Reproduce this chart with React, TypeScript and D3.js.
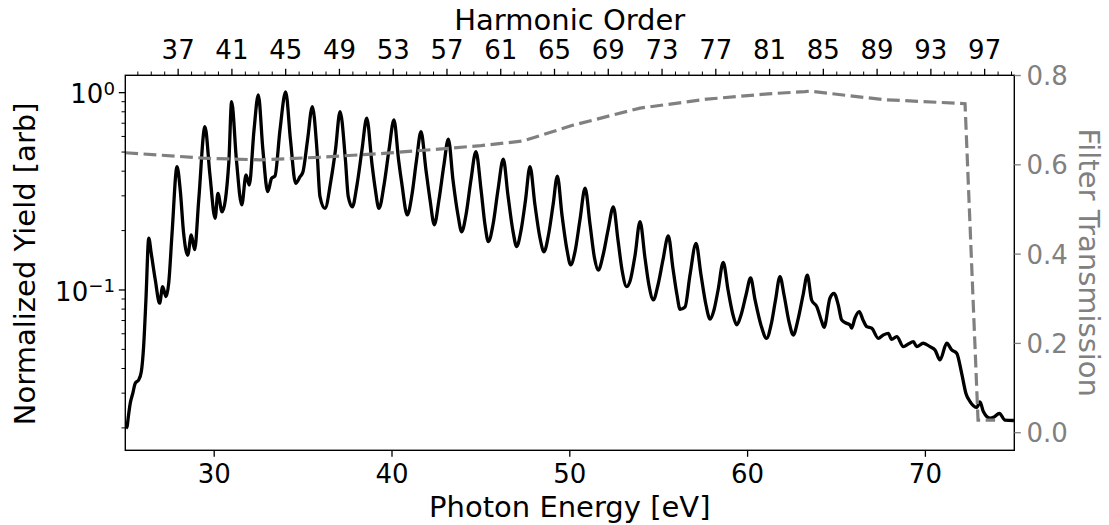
import React from "react";
import * as d3 from "d3";

// Photon energy (eV) of the measured spectrum points
const photonEnergy = [
  25.04, 25.10, 25.17, 25.28, 25.42, 25.56, 25.75, 25.90, 26.03, 26.16,
  26.32, 26.46, 26.69, 26.93, 27.10, 27.29, 27.44, 27.63, 27.91, 28.09,
  28.28, 28.51, 28.71, 28.90, 29.13, 29.48, 29.76, 30.05, 30.21, 30.44,
  30.82, 30.98, 31.25, 31.55, 31.79, 31.97, 32.24, 32.48, 32.74, 33.01,
  33.23, 33.42, 33.70, 34.02, 34.29, 34.58, 34.83, 34.99, 35.25, 35.52,
  35.78, 35.95, 36.23, 36.57, 36.82, 37.08, 37.38, 37.54, 37.77, 38.03,
  38.31, 38.58, 38.88, 39.04, 39.27, 39.55, 39.83, 40.11, 40.37, 40.55,
  40.86, 41.12, 41.38, 41.63, 41.91, 42.14, 42.38, 42.64, 42.92, 43.17,
  43.43, 43.71, 43.92, 44.16, 44.44, 44.72, 45.01, 45.23, 45.42, 45.68,
  45.96, 46.26, 46.52, 46.81, 47.01, 47.26, 47.51, 47.76, 48.04, 48.32,
  48.55, 48.80, 49.06, 49.30, 49.56, 49.84, 50.05, 50.29, 50.57, 50.86,
  51.14, 51.39, 51.60, 51.87, 52.15, 52.45, 52.71, 52.94, 53.20, 53.39,
  53.67, 53.95, 54.23, 54.45, 54.70, 54.96, 55.24, 55.54, 55.80, 56.03,
  56.20, 56.48, 56.76, 57.10, 57.38, 57.66, 57.89, 58.11, 58.34, 58.63,
  58.90, 59.18, 59.39, 59.63, 59.91, 60.17, 60.42, 60.75, 61.07, 61.32,
  61.57, 61.82, 62.05, 62.33, 62.57, 62.83, 63.12, 63.36, 63.60, 63.89,
  64.17, 64.30, 64.63, 64.86, 65.10, 65.29, 65.53, 65.76, 65.85, 66.04,
  66.28, 66.49, 66.70, 66.98, 67.35, 67.63, 67.91, 68.10, 68.39, 68.76,
  69.04, 69.32, 69.51, 69.88, 70.26, 70.54, 70.82, 71.20, 71.48, 71.76,
  72.04, 72.28, 72.51, 72.89, 73.07, 73.26, 73.63, 73.86, 74.16, 74.48,
  74.98,
];

// Normalized harmonic yield (arb.)
const normalizedYield = [
  0.0199, 0.0203, 0.0228, 0.0267, 0.0299, 0.0337, 0.0350, 0.0385, 0.0516, 0.0890,
  0.183, 0.153, 0.112, 0.0857, 0.104, 0.0925, 0.108, 0.194, 0.422, 0.321,
  0.194, 0.150, 0.190, 0.160, 0.286, 0.672, 0.383, 0.231, 0.309, 0.249,
  0.439, 0.900, 0.456, 0.270, 0.383, 0.340, 0.647, 0.973, 0.512, 0.315,
  0.368, 0.378, 0.647, 1.01, 0.576, 0.347, 0.375, 0.396, 0.576, 0.849,
  0.512, 0.297, 0.259, 0.361, 0.512, 0.801, 0.456, 0.297, 0.264, 0.340,
  0.512, 0.742, 0.430, 0.334, 0.259, 0.340, 0.512, 0.727, 0.456, 0.347,
  0.240, 0.303, 0.456, 0.634, 0.406, 0.286, 0.214, 0.286, 0.430, 0.582,
  0.361, 0.240, 0.197, 0.240, 0.361, 0.502, 0.321, 0.214, 0.176, 0.214,
  0.321, 0.460, 0.303, 0.197, 0.166, 0.201, 0.286, 0.422, 0.270, 0.184,
  0.156, 0.190, 0.270, 0.378, 0.240, 0.160, 0.134, 0.156, 0.226, 0.328,
  0.214, 0.145, 0.126, 0.150, 0.201, 0.264, 0.179, 0.126, 0.104, 0.111,
  0.150, 0.222, 0.145, 0.106, 0.0890, 0.106, 0.142, 0.188, 0.129, 0.0943,
  0.0798, 0.0820, 0.119, 0.172, 0.119, 0.0839, 0.0711, 0.0792, 0.100, 0.138,
  0.100, 0.0747, 0.0665, 0.0747, 0.0943, 0.115, 0.0890, 0.0665, 0.0569, 0.0665,
  0.0890, 0.117, 0.0943, 0.0689, 0.0591, 0.0705, 0.0943, 0.119, 0.0890, 0.0823,
  0.0691, 0.0647, 0.0908, 0.0962, 0.0839, 0.0705, 0.0680, 0.0665, 0.0640, 0.0721,
  0.0776, 0.0705, 0.0652, 0.0640, 0.0569, 0.0591, 0.0603, 0.0562, 0.0580, 0.0516,
  0.0532, 0.0547, 0.0516, 0.0537, 0.0516, 0.0497, 0.0442, 0.0537, 0.0497, 0.0478,
  0.0378, 0.0299, 0.0272, 0.0254, 0.0271, 0.0242, 0.0224, 0.0227, 0.0237, 0.0219,
  0.0218,
];

// Filter transmission curve
const filterEnergy = [
  25.0, 29.39, 32.57, 35.95, 39.70, 43.17, 45.0, 47.29, 47.57, 50.20,
  53.95, 57.70, 61.16, 63.23, 63.51, 67.63, 72.23, 72.96, 73.92,
];
const filterTransmission = [
  0.627, 0.615, 0.611, 0.617, 0.626, 0.637, 0.643, 0.653, 0.656, 0.689,
  0.727, 0.747, 0.759, 0.764, 0.765, 0.746, 0.737, 0.028, 0.028,
];

const bottomTicks = [30, 40, 50, 60, 70];
const rightTicks = [0.0, 0.2, 0.4, 0.6, 0.8];
const harmonicLabels = [37, 41, 45, 49, 53, 57, 61, 65, 69, 73, 77, 81, 85, 89, 93, 97];
const photonPerOrder = 0.756; // eV per harmonic order

const FONT = "'DejaVu Sans', sans-serif";
const GRAY = "#808080";
const TICK_FS = 26;
const LABEL_FS = 29;

export default function App() {
  const W = 1109;
  const H = 525;
  const L = 125.3, R = 1014.3, T = 75.3, B = 450.3;
  const majorLen = 6.5, minorLen = 3.8;

  const x = d3.scaleLinear().domain([25, 75]).range([L, R]);
  const y = d3.scaleLog().domain([Math.pow(10, -1.8125), Math.pow(10, 0.088)]).range([B, T]);
  const yR = d3.scaleLinear().domain([-0.0394, 0.8005]).range([B, T]);
  const xTop = d3.scaleLinear().domain([25 / photonPerOrder, 75 / photonPerOrder]).range([L, R]);

  const spectrum = photonEnergy.map((e, i) => [e, normalizedYield[i]] as [number, number]);
  const filter = filterEnergy.map((e, i) => [e, filterTransmission[i]] as [number, number]);

  const line = d3.line<[number, number]>()
    .x(d => x(d[0]))
    .y(d => y(d[1]))
    .curve(d3.curveMonotoneX);
  const tLine = d3.line<[number, number]>()
    .x(d => x(d[0]))
    .y(d => yR(d[1]));

  const [yMin, yMax] = y.domain();
  const minorLog: number[] = [];
  const majorLog: number[] = [];
  for (let p = -3; p <= 1; p++) {
    for (let k = 1; k <= 9; k++) {
      const v = k * Math.pow(10, p);
      if (v >= yMin && v <= yMax) (k === 1 ? majorLog : minorLog).push(v);
    }
  }
  const [q0, q1] = xTop.domain();
  const topMinor: number[] = [];
  for (let q = Math.ceil(q0); q <= q1; q++) if (!harmonicLabels.includes(q)) topMinor.push(q);

  return (
    <svg width={W} height={H} style={{ position: "fixed", left: 0, top: 0, background: "#fff" }}
      fontFamily={FONT}>
      <defs>
        <clipPath id="plotclip">
          <rect x={L} y={T} width={R - L} height={B - T} />
        </clipPath>
      </defs>
      <rect x={0} y={0} width={W} height={H} fill="#fff" />

      <g clipPath="url(#plotclip)">
        <path d={line(spectrum) || ""} fill="none" stroke="#000" strokeWidth={3.3} strokeLinejoin="round" />
        <path d={tLine(filter) || ""} fill="none" stroke={GRAY} strokeWidth={3.2} strokeDasharray="12.8 5.5" />
      </g>

      {/* spines */}
      <rect x={L} y={T} width={R - L} height={B - T} fill="none" stroke="#000" strokeWidth={1.4} />

      {/* bottom axis */}
      {bottomTicks.map(t => (
        <g key={"b" + t}>
          <line x1={x(t)} x2={x(t)} y1={B} y2={B + majorLen} stroke="#000" strokeWidth={1.3} />
          <text x={x(t)} y={483} fontSize={TICK_FS} textAnchor="middle" fill="#000">{t}</text>
        </g>
      ))}
      <text x={(L + R) / 2} y={517} fontSize={LABEL_FS} textAnchor="middle" fill="#000">Photon Energy [eV]</text>

      {/* top axis */}
      {topMinor.map(q => (
        <line key={"tm" + q} x1={xTop(q)} x2={xTop(q)} y1={T} y2={T - minorLen} stroke="#000" strokeWidth={1} />
      ))}
      {harmonicLabels.map(q => (
        <g key={"t" + q}>
          <line x1={xTop(q)} x2={xTop(q)} y1={T} y2={T - majorLen} stroke="#000" strokeWidth={1.3} />
          <text x={xTop(q)} y={59} fontSize={TICK_FS} textAnchor="middle" fill="#000">{q}</text>
        </g>
      ))}
      <text x={(L + R) / 2} y={30} fontSize={LABEL_FS} textAnchor="middle" fill="#000">Harmonic Order</text>

      {/* left log axis */}
      {minorLog.map(v => (
        <line key={"lm" + v} x1={L} x2={L - minorLen} y1={y(v)} y2={y(v)} stroke="#000" strokeWidth={1} />
      ))}
      {majorLog.map(v => {
        const p = Math.round(Math.log10(v));
        return (
          <g key={"l" + v}>
            <line x1={L} x2={L - majorLen} y1={y(v)} y2={y(v)} stroke="#000" strokeWidth={1.3} />
            <text x={115} y={y(v) + 10.8} fontSize={TICK_FS} textAnchor="end" fill="#000">
              10<tspan fontSize={18.2} dy={-8.5}>{p < 0 ? "\u2212" + Math.abs(p) : String(p)}</tspan>
            </text>
          </g>
        );
      })}
      <text transform={`translate(35, ${(T + B) / 2 + 1}) rotate(-90)`} fontSize={LABEL_FS} textAnchor="middle" fill="#000">
        Normalized Yield [arb]
      </text>

      {/* right axis */}
      {rightTicks.map(t => (
        <g key={"r" + t}>
          <line x1={R} x2={R + majorLen} y1={yR(t)} y2={yR(t)} stroke={GRAY} strokeWidth={1.3} />
          <text x={1026.5} y={yR(t) + 9.4} fontSize={TICK_FS} textAnchor="start" fill={GRAY}>{t.toFixed(1)}</text>
        </g>
      ))}
      <text transform={`translate(1079, ${(T + B) / 2}) rotate(90)`} fontSize={LABEL_FS} textAnchor="middle" fill={GRAY}>
        Filter Transmission
      </text>
    </svg>
  );
}
